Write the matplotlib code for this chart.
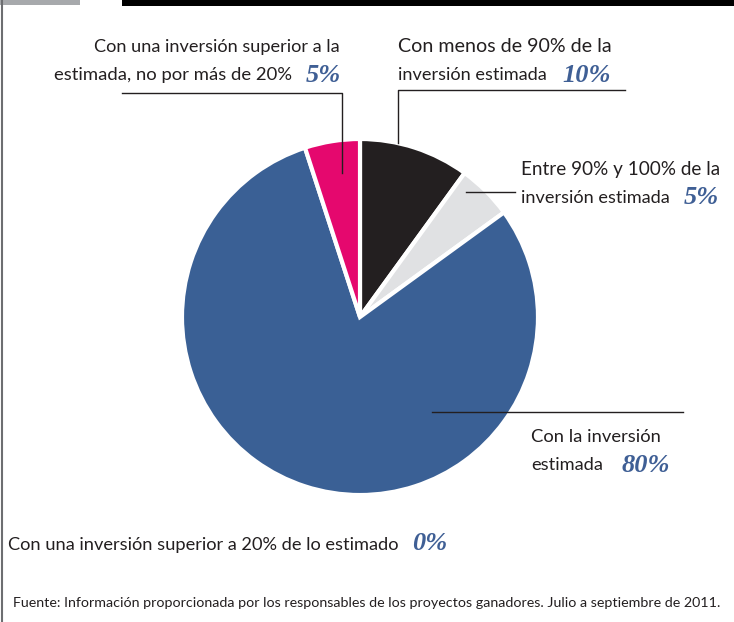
import matplotlib.pyplot as plt
from matplotlib.lines import Line2D
from matplotlib.patches import Rectangle

# --- datos ---
categorias = ["Con menos de 90% de la inversión estimada",
              "Entre 90% y 100% de la inversión estimada",
              "Con la inversión estimada",
              "Con una inversión superior a la estimada, no por más de 20%"]
porcentajes = [10, 5, 80, 5]
colores = ["#231F20", "#E0E1E3", "#3A6095", "#E5086E"]
fuente = "Fuente: Información proporcionada por los responsables de los proyectos ganadores. Julio a septiembre de 2011."

W, H = 734, 622
azul = "#3F5F95"
sans = ["Lato", "DejaVu Sans"]
serif = ["Liberation Serif", "DejaVu Serif"]

fig = plt.figure(figsize=(W / 100, H / 100), dpi=100)
ax = fig.add_axes([0, 0, 1, 1])
ax.set_xlim(0, W)
ax.set_ylim(0, H)
ax.set_aspect("equal")
ax.axis("off")


def Y(y):
    return H - y


# marco superior / izquierdo
ax.add_patch(Rectangle((122, Y(6)), W - 122, 6, color="black", lw=0))
ax.add_patch(Rectangle((0, Y(5)), 80, 5, color="#A7A9AC", lw=0))
ax.add_line(Line2D([2, 2], [0, H], color="#6D6E71", lw=1.5))

# pastel
ax.pie(porcentajes, colors=colores, startangle=90, counterclock=False,
       center=(360, Y(317)), radius=178, explode=[0, 0, 0.025, 0],
       wedgeprops=dict(edgecolor="white", linewidth=3))
ax.set_xlim(0, W)
ax.set_ylim(0, H)


def linea(xs, ys):
    ax.add_line(Line2D(xs, [Y(v) for v in ys], color="#231F20", lw=1))


def texto(x, y, s, ha="left", size=13, ancho=None):
    t = ax.text(x, Y(y), s, ha=ha, va="center", fontsize=size, family=sans,
                color="#231F20")
    if ancho:
        # ajustar el tamaño para imitar la tipografía condensada del original
        fig.canvas.draw()
        w = t.get_window_extent().width
        t.set_fontsize(size * ancho / w)
    return t


def pct(x, y, v, ha="left"):
    ax.text(x, Y(y), f"{v}%", ha=ha, va="center", fontsize=19, family=serif,
            style="italic", weight="bold", color=azul)


# superior a la estimada (rosa)
texto(340, 47, "Con una inversión superior a la", ha="right", ancho=245)
texto(292, 75, "estimada, no por más de 20%", ha="right", ancho=237)
pct(341, 75, porcentajes[3], ha="right")
linea([122, 342, 342], [93, 93, 173])

# menos de 90% (negro)
texto(398, 47, "Con menos de 90% de la", ancho=212)
texto(398, 75, "inversión estimada", ancho=148)
pct(562, 75, porcentajes[0])
linea([625, 398, 398], [90, 90, 143])

# entre 90% y 100% (gris)
texto(521, 170, "Entre 90% y 100% de la", ancho=198)
texto(521, 198, "inversión estimada", ancho=148)
pct(684, 198, porcentajes[1])
linea([466, 515], [192, 192])

# inversión estimada (azul)
texto(531, 437, "Con la inversión", ancho=129)
texto(531, 465, "estimada", ancho=72)
pct(622, 465, porcentajes[2])
linea([432, 683], [412, 412])

# superior a 20%
texto(8, 545, "Con una inversión superior a 20% de lo estimado", ancho=390)
pct(412, 543, 0)

texto(13, 603, fuente, size=10, ancho=707)

fig.savefig("out.png", dpi=100)
